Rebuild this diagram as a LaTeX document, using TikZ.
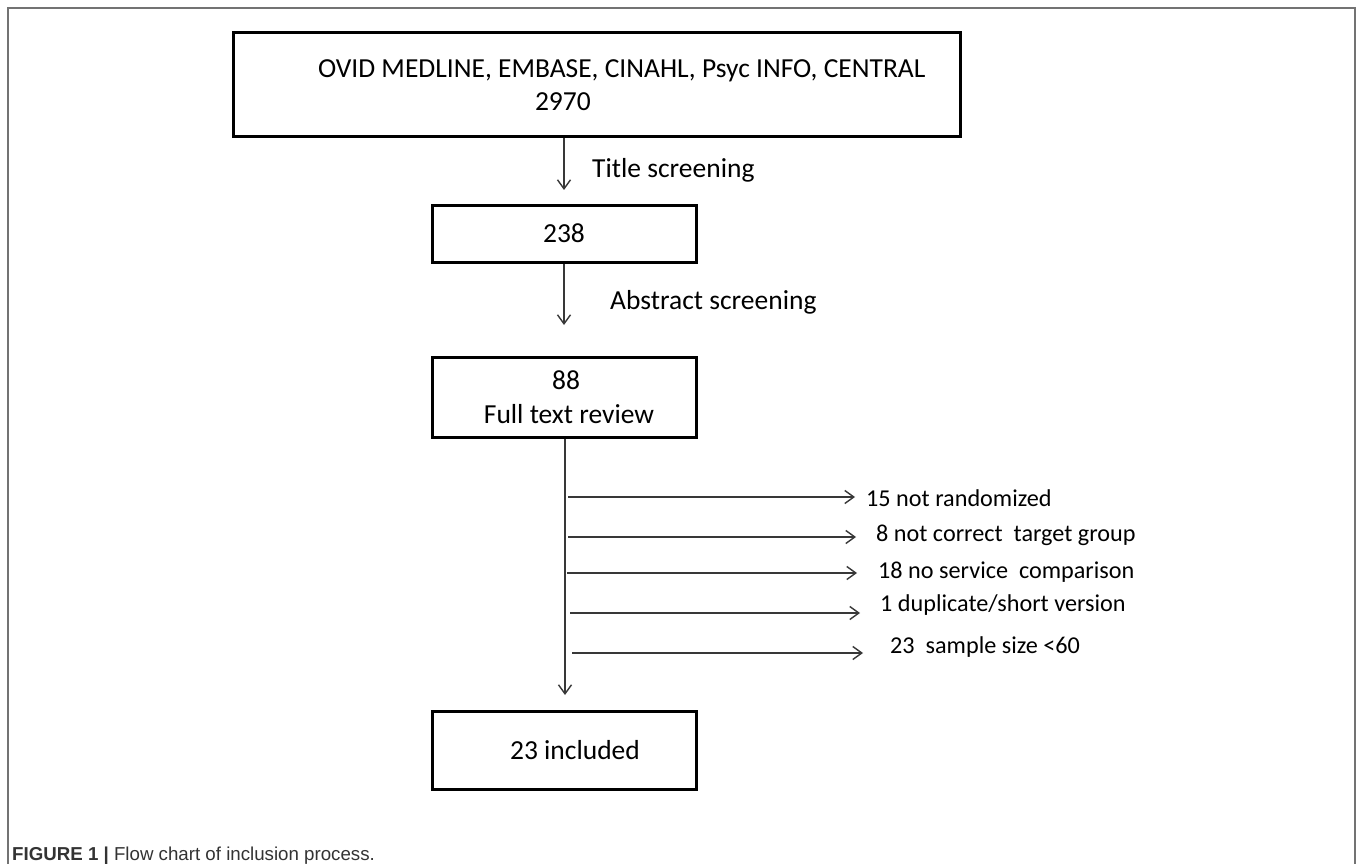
\documentclass[tikz,border=0pt]{standalone}
\usepackage{fontspec}
\setmainfont{Carlito}
\newfontfamily\capfont{Liberation Sans}
\usetikzlibrary{arrows.meta}
\begin{document}
\begin{tikzpicture}[x=1pt,y=-1pt,
  frame/.style={draw=black!55, line width=2pt},
  box/.style={draw=black, line width=3pt, inner sep=0pt, font=\fontsize{27.5}{33.6}\selectfont},
  arr/.style={draw=black!78, line width=1.4pt, -{Straight Barb[length=9pt,width=13pt]}},
  lab/.style={inner sep=0pt, anchor=west, font=\fontsize{24.2}{29}\selectfont},
  steplab/.style={inner sep=0pt, anchor=west, font=\fontsize{27.5}{33.6}\selectfont}]
\useasboundingbox (0,0) rectangle (1358,864);
\fill[white] (0,0) rectangle (1358,864);
\draw[frame] (8,864) -- (8,8) -- (1355,8) -- (1355,864);

% main boxes
\node[box, minimum width=727, minimum height=104, align=left] (src) at (596.5,85)
  {\makebox[727pt][l]{\hspace*{85pt}OVID MEDLINE, EMBASE, CINAHL, Psyc INFO, CENTRAL}\\
   \makebox[727pt][l]{\hspace*{302pt}2970}};
\node[box, minimum width=264, minimum height=57] (scr) at (564,233.5) {238};
\node[box, minimum width=264, minimum height=80, align=center] (full) at (564,397) {\hspace*{4pt}88\\\hspace*{10pt}Full text review};
\node[box, minimum width=264, minimum height=78] (inc) at (564,750) {\hspace*{22pt}23 included};

% step labels
\node[steplab] (t1) at (592,170) {Title screening};
\node[steplab] (t2) at (610,302) {Abstract screening};

% main arrows
\coordinate (a1) at (564,190);
\coordinate (a2) at (564,325);
\coordinate (a3) at (565,695);
\draw[arr] (src.south -| a1) -- (a1);
\draw[arr] (scr.south -| a2) -- (a2);
\draw[arr] (full.south -| a3) -- (a3);

% exclusion arrows
\coordinate (s1) at (568,497); \coordinate (e1) at (855,497);
\coordinate (s2) at (568,537); \coordinate (e2) at (856,537);
\coordinate (s3) at (567,573); \coordinate (e3) at (857,573);
\coordinate (s4) at (570,613); \coordinate (e4) at (860,613);
\coordinate (s5) at (572,653); \coordinate (e5) at (863,653);
\draw[arr] (s1) -- (e1);
\draw[arr] (s2) -- (e2);
\draw[arr] (s3) -- (e3);
\draw[arr] (s4) -- (e4);
\draw[arr] (s5) -- (e5);
\node[lab] (x1) at (866,498) {15 not randomized};
\node[lab] (x2) at (876,535) {8 not correct\ \ target group};
\node[lab] (x3) at (878,572) {18 no service\ \ comparison};
\node[lab] (x4) at (880,605) {1 duplicate/short version};
\node[lab] (x5) at (890,647) {23\ \ sample size <60};

% caption
\node[anchor=base west, inner sep=0pt, text=black!80, font=\capfont\fontsize{18.7}{22}\selectfont] (cap) at (12,860)
  {{\bfseries FIGURE 1 |} Flow chart of inclusion process.};
\end{tikzpicture}
\end{document}
